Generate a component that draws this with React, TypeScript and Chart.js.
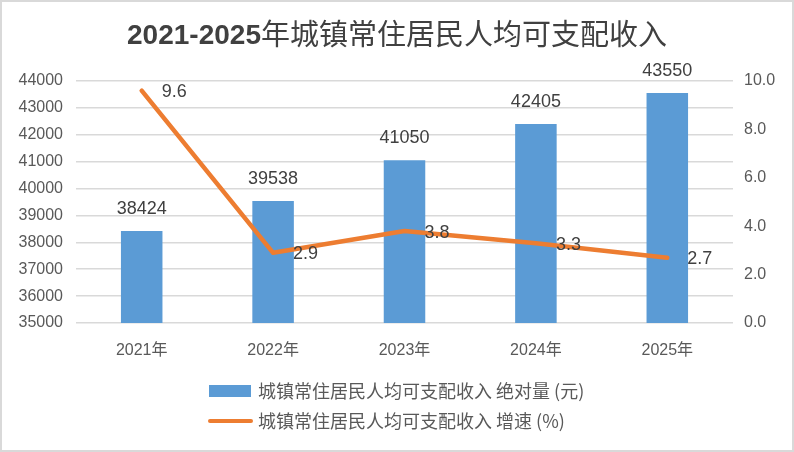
import { useEffect, useRef } from "react";
import { Chart, registerables } from "chart.js";

Chart.register(...registerables);

const years = ["2021年", "2022年", "2023年", "2024年", "2025年"];
const incomeValues = [38424, 39538, 41050, 42405, 43550];
const growthValues = [9.6, 2.9, 3.8, 3.3, 2.7];

const titleYears = "2021-2025";
const titleText = "年城镇常住居民人均可支配收入";
const incomeLabel = "城镇常住居民人均可支配收入 绝对量 (元)";
const growthLabel = "城镇常住居民人均可支配收入 增速 (%)";

const BLUE = "#5B9BD5";
const ORANGE = "#ED7D31";
const GRID = "#d9d9d9";
const TICK = "#595959";
const LABEL = "#404040";
const LATIN = "'Liberation Sans', 'Noto Sans CJK SC', sans-serif";
const CJK = "'Noto Sans CJK SC', 'Liberation Sans', sans-serif";

// 배경, 테두리, 제목, 값 라벨, 범례를 직접 그린다
const decorPlugin = {
  id: "decor",
  beforeDraw(chart: Chart) {
    const { ctx, width, height } = chart;
    ctx.save();
    ctx.fillStyle = "#ffffff";
    ctx.fillRect(0, 0, width, height);
    ctx.restore();
  },
  afterDatasetsDraw(chart: Chart) {
    const { ctx } = chart;
    ctx.save();
    ctx.fillStyle = LABEL;
    ctx.font = `18px ${LATIN}`;

    const barMeta = chart.getDatasetMeta(1);
    ctx.textAlign = "center";
    ctx.textBaseline = "alphabetic";
    barMeta.data.forEach((el: any, i: number) => {
      ctx.fillText(String(incomeValues[i]), el.x, el.y - 17);
    });

    const lineMeta = chart.getDatasetMeta(0);
    ctx.textAlign = "left";
    lineMeta.data.forEach((el: any, i: number) => {
      ctx.fillText(growthValues[i].toFixed(1), el.x + 20, el.y + 6.5);
    });
    ctx.restore();
  },
  afterDraw(chart: Chart) {
    const { ctx, width, height } = chart;
    ctx.save();

    // title
    ctx.fillStyle = LABEL;
    ctx.textBaseline = "alphabetic";
    ctx.textAlign = "left";
    ctx.font = `bold 28px ${LATIN}`;
    const w1 = ctx.measureText(titleYears).width;
    ctx.font = `29px ${CJK}`;
    const w2 = ctx.measureText(titleText).width;
    const start = 397 - (w1 + w2) / 2;
    ctx.font = `bold 28px ${LATIN}`;
    ctx.fillText(titleYears, start, 44);
    ctx.font = `29px ${CJK}`;
    ctx.fillText(titleText, start + w1, 45);

    // legend
    ctx.fillStyle = BLUE;
    ctx.fillRect(209, 385, 42, 12);
    ctx.strokeStyle = ORANGE;
    ctx.lineWidth = 4;
    ctx.lineCap = "round";
    ctx.beginPath();
    ctx.moveTo(210, 421);
    ctx.lineTo(251, 421);
    ctx.stroke();
    ctx.fillStyle = TICK;
    ctx.font = `18px ${CJK}`;
    ctx.textBaseline = "middle";
    ctx.fillText(incomeLabel, 258, 391);
    ctx.fillText(growthLabel, 258, 421);

    // border
    ctx.strokeStyle = GRID;
    ctx.lineWidth = 2;
    ctx.strokeRect(1, 1, width - 2, height - 2);
    ctx.restore();
  },
};

const App = () => {
  const canvasRef = useRef<HTMLCanvasElement>(null);
  const chartRef = useRef<Chart | null>(null);

  useEffect(() => {
    if (!canvasRef.current) return;
    if (chartRef.current) chartRef.current.destroy();

    chartRef.current = new Chart(canvasRef.current, {
      type: "bar",
      data: {
        labels: years,
        datasets: [
          {
            type: "line",
            label: growthLabel,
            data: growthValues,
            yAxisID: "y1",
            borderColor: ORANGE,
            borderWidth: 4.5,
            borderCapStyle: "round",
            borderJoinStyle: "round",
            pointRadius: 0,
            tension: 0,
            order: 0,
          } as any,
          {
            type: "bar",
            label: incomeLabel,
            data: incomeValues,
            yAxisID: "y",
            backgroundColor: BLUE,
            barPercentage: 0.316,
            categoryPercentage: 1,
            order: 1,
          },
        ],
      },
      options: {
        animation: false,
        responsive: true,
        maintainAspectRatio: false,
        layout: { padding: { top: 81, bottom: 79, left: 0, right: 0 } },
        plugins: {
          legend: { display: false },
          title: { display: false },
          tooltip: { enabled: false },
        },
        scales: {
          x: {
            grid: { display: false },
            border: { display: false },
            ticks: { color: TICK, font: { size: 16, family: LATIN }, padding: 10 },
            afterFit: (scale: any) => {
              scale.height = 50;
            },
          },
          y: {
            position: "left",
            min: 35000,
            max: 44000,
            ticks: {
              stepSize: 1000,
              color: TICK,
              font: { size: 16, family: LATIN },
              padding: 13,
              callback: (v: any) => String(v),
            },
            grid: { color: GRID, lineWidth: 1.5, drawTicks: false },
            border: { display: false },
            afterFit: (scale: any) => {
              scale.width = 76;
            },
          },
          y1: {
            position: "right",
            min: 0,
            max: 10,
            ticks: {
              stepSize: 2,
              color: TICK,
              font: { size: 16, family: LATIN },
              padding: 11,
              callback: (v: any) => Number(v).toFixed(1),
            },
            grid: { display: false, drawTicks: false },
            border: { display: false },
            afterFit: (scale: any) => {
              scale.width = 61;
            },
          },
        },
      },
      plugins: [decorPlugin],
    });

    return () => {
      if (chartRef.current) {
        chartRef.current.destroy();
        chartRef.current = null;
      }
    };
  }, []);

  return (
    <div style={{ position: "absolute", left: 0, top: 0, width: 794, height: 452 }}>
      <canvas ref={canvasRef}></canvas>
    </div>
  );
};

export default App;
